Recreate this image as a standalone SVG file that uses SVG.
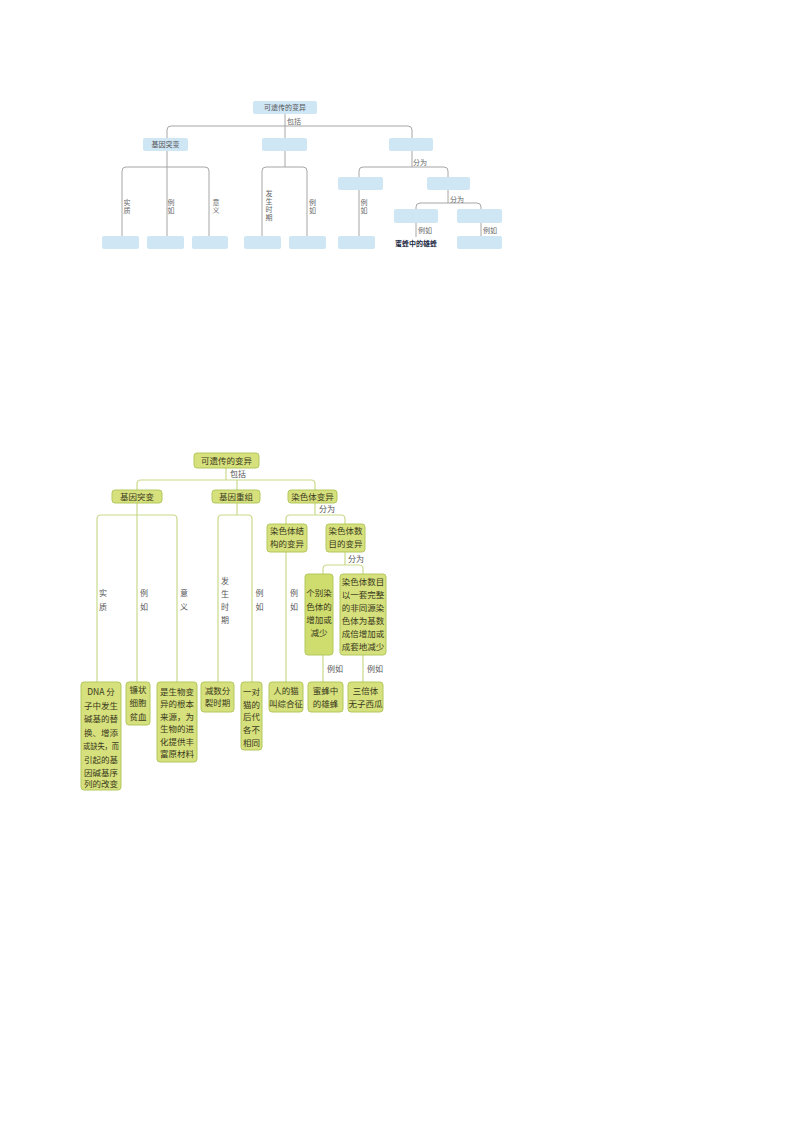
<svg xmlns="http://www.w3.org/2000/svg" width="800" height="1132" viewBox="0 0 800 1132">
<style>
.bg{fill:#ffffff}
.tl{fill:none;stroke:#9c9c9c;stroke-width:0.9}
.tb{fill:#cfe6f5;stroke:none}
.tt{font-family:"Noto Sans CJK SC","Noto Sans",sans-serif;font-size:7px;fill:#555;text-anchor:middle}
.tv{font-family:"Noto Sans CJK SC","Noto Sans",sans-serif;font-size:7px;fill:#666;text-anchor:middle}
.tk{font-family:"Noto Sans CJK SC","Noto Sans",sans-serif;font-size:7px;fill:#222a44;font-weight:bold;text-anchor:middle}
.gl{fill:none;stroke:#c9d98a;stroke-width:1.2}
.gb{fill:#d6e07c;stroke:#b3c85c;stroke-width:1}
.gt{font-family:"Noto Sans CJK SC","Noto Sans",sans-serif;font-size:8.5px;fill:#3a3a20;text-anchor:middle}
.gv{font-family:"Noto Sans CJK SC","Noto Sans",sans-serif;font-size:8px;fill:#555;text-anchor:middle}
</style>
<rect class="bg" x="0" y="0" width="800" height="1132"/>

<!-- ===== Top diagram (blue) ===== -->
<g id="top-connectors">
<path class="tl" d="M285 114 V167"/>
<path class="tl" d="M167 237 V130 Q167 126 171 126 H408 Q412 126 412 130 V167"/>
<path class="tl" d="M122 237 V171 Q122 167 126 167 H205 Q209 167 209 171 V237"/>
<path class="tl" d="M262 237 V171 Q262 167 266 167 H303 Q307 167 307 171 V237"/>
<path class="tl" d="M359 237 V171 Q359 167 363 167 H444 Q448 167 448 171 V203"/>
<path class="tl" d="M416 237 V207 Q416 203 420 203 H477 Q481 203 481 207 V237"/>
<text class="tv" x="294" y="124">包括</text>
<text class="tv" x="420" y="165">分为</text>
<text class="tv" x="457" y="202">分为</text>
<text class="tv" x="425" y="233">例如</text>
<text class="tv" x="490" y="233">例如</text>
<text class="tv" x="127" y="205"><tspan x="127">实</tspan><tspan x="127" dy="8">质</tspan></text>
<text class="tv" x="171" y="205"><tspan x="171">例</tspan><tspan x="171" dy="8">如</tspan></text>
<text class="tv" x="216" y="205"><tspan x="216">意</tspan><tspan x="216" dy="8">义</tspan></text>
<text class="tv" x="269" y="196"><tspan x="269">发</tspan><tspan x="269" dy="8">生</tspan><tspan x="269" dy="8">时</tspan><tspan x="269" dy="8">期</tspan></text>
<text class="tv" x="312.5" y="205"><tspan x="312.5">例</tspan><tspan x="312.5" dy="8">如</tspan></text>
<text class="tv" x="364" y="205"><tspan x="364">例</tspan><tspan x="364" dy="8">如</tspan></text>
</g>
<g id="t-root"><rect class="tb" x="253" y="101" width="64" height="13" rx="2"/><text class="tt" x="285" y="110">可遗传的变异</text></g>
<g id="t-jytb"><rect class="tb" x="143" y="138" width="45" height="13" rx="2"/><text class="tt" x="165.5" y="147">基因突变</text></g>
<g id="t-jycz"><rect class="tb" x="262" y="138" width="45" height="13" rx="2"/></g>
<g id="t-rstby"><rect class="tb" x="389" y="138" width="44" height="13" rx="2"/></g>
<g id="t-jg"><rect class="tb" x="338" y="177" width="45" height="13" rx="2"/></g>
<g id="t-sm"><rect class="tb" x="427" y="177" width="43" height="13" rx="2"/></g>
<g id="t-gb"><rect class="tb" x="394" y="209" width="44" height="14" rx="2"/></g>
<g id="t-bs"><rect class="tb" x="457" y="209" width="45" height="14" rx="2"/></g>
<g id="t-b1"><rect class="tb" x="102" y="236" width="37" height="13" rx="2"/></g>
<g id="t-b2"><rect class="tb" x="147" y="236" width="37" height="13" rx="2"/></g>
<g id="t-b3"><rect class="tb" x="192" y="236" width="36" height="13" rx="2"/></g>
<g id="t-b4"><rect class="tb" x="244" y="236" width="37" height="13" rx="2"/></g>
<g id="t-b5"><rect class="tb" x="289" y="236" width="37" height="13" rx="2"/></g>
<g id="t-b6"><rect class="tb" x="338" y="236" width="37" height="13" rx="2"/></g>
<g id="t-b7"><text class="tk" x="416" y="245.5">蜜蜂中的雄蜂</text></g>
<g id="t-b8"><rect class="tb" x="457" y="236" width="45" height="13" rx="2"/></g>

<!-- ===== Bottom diagram (green) ===== -->
<g id="bottom-connectors">
<path class="gl" d="M226 468 V480"/>
<path class="gl" d="M137 682 V484 Q137 480 141 480 H311 Q315 480 315 484 V515"/>
<path class="gl" d="M237 480 V515"/>
<path class="gl" d="M97 682 V519 Q97 515 101 515 H173 Q177 515 177 519 V682"/>
<path class="gl" d="M218 682 V519 Q218 515 222 515 H248 Q252 515 252 519 V682"/>
<path class="gl" d="M286 682 V519 Q286 515 290 515 H341 Q345 515 345 519 V565"/>
<path class="gl" d="M323 682 V569 Q323 565 327 565 H359 Q363 565 363 569 V682"/>
<text class="gv" x="238" y="477">包括</text>
<text class="gv" x="327" y="512">分为</text>
<text class="gv" x="356" y="562">分为</text>
<text class="gv" x="335" y="672">例如</text>
<text class="gv" x="375" y="672">例如</text>
<text class="gv" x="103" y="596"><tspan x="103">实</tspan><tspan x="103" dy="14">质</tspan></text>
<text class="gv" x="144" y="596"><tspan x="144">例</tspan><tspan x="144" dy="14">如</tspan></text>
<text class="gv" x="184" y="596"><tspan x="184">意</tspan><tspan x="184" dy="14">义</tspan></text>
<text class="gv" x="225" y="584"><tspan x="225">发</tspan><tspan x="225" dy="12.5">生</tspan><tspan x="225" dy="13">时</tspan><tspan x="225" dy="13">期</tspan></text>
<text class="gv" x="259.5" y="596"><tspan x="259.5">例</tspan><tspan x="259.5" dy="14">如</tspan></text>
<text class="gv" x="294" y="596"><tspan x="294">例</tspan><tspan x="294" dy="14">如</tspan></text>
</g>
<g id="g-root"><rect class="gb" x="194" y="453" width="65" height="15" rx="3"/><text class="gt" x="226.5" y="464">可遗传的变异</text></g>
<g id="g-jytb"><rect class="gb" x="112" y="490" width="50" height="13" rx="3"/><text class="gt" x="137" y="500">基因突变</text></g>
<g id="g-jycz"><rect class="gb" x="212" y="490" width="48" height="13" rx="3"/><text class="gt" x="236" y="500">基因重组</text></g>
<g id="g-rstby"><rect class="gb" x="288" y="490" width="49" height="13" rx="3"/><text class="gt" x="312.5" y="500">染色体变异</text></g>
<g id="g-jg"><rect class="gb" x="267" y="524" width="40" height="28" rx="3"/><text class="gt"><tspan x="287" y="534">染色体结</tspan><tspan x="287" y="547">构的变异</tspan></text></g>
<g id="g-sm"><rect class="gb" x="326" y="524" width="39" height="28" rx="3"/><text class="gt"><tspan x="345.5" y="534">染色体数</tspan><tspan x="345.5" y="547">目的变异</tspan></text></g>
<g id="g-gb"><rect class="gb" x="305" y="574" width="28" height="81" rx="3" style="fill:#cfdc6e"/><text class="gt"><tspan x="319" y="596">个别染</tspan><tspan x="319" y="609.5">色体的</tspan><tspan x="319" y="622.5">增加或</tspan><tspan x="319" y="635.5">减少</tspan></text></g>
<g id="g-bs"><rect class="gb" x="340" y="574" width="46" height="81" rx="3"/><text class="gt"><tspan x="363" y="585">染色体数目</tspan><tspan x="363" y="598">以一套完整</tspan><tspan x="363" y="611">的非同源染</tspan><tspan x="363" y="624">色体为基数</tspan><tspan x="363" y="637">成倍增加或</tspan><tspan x="363" y="650">成套地减少</tspan></text></g>
<g id="g-b1"><rect class="gb" x="81" y="682" width="40" height="108" rx="3"/><text class="gt"><tspan x="101" y="695">DNA 分</tspan><tspan x="101" y="708.5">子中发生</tspan><tspan x="101" y="722">碱基的替</tspan><tspan x="101" y="735.5">换、增添</tspan></text><text class="gt" x="101" y="749" textLength="36" lengthAdjust="spacingAndGlyphs">或缺失，而</text><text class="gt"><tspan x="101" y="762.5">引起的基</tspan><tspan x="101" y="776">因碱基序</tspan><tspan x="101" y="787">列的改变</tspan></text></g>
<g id="g-b2"><rect class="gb" x="126" y="682" width="24" height="43" rx="3"/><text class="gt"><tspan x="138" y="693">镰状</tspan><tspan x="138" y="706">细胞</tspan><tspan x="138" y="719.5">贫血</tspan></text></g>
<g id="g-b3"><rect class="gb" x="157" y="682" width="40" height="80" rx="3"/><text class="gt"><tspan x="177" y="694.5">是生物变</tspan><tspan x="177" y="707">异的根本</tspan><tspan x="177" y="719.5">来源，为</tspan><tspan x="177" y="732">生物的进</tspan><tspan x="177" y="744.5">化提供丰</tspan><tspan x="177" y="757">富原材料</tspan></text></g>
<g id="g-b4"><rect class="gb" x="201" y="682" width="33" height="30" rx="3"/><text class="gt"><tspan x="217.5" y="694">减数分</tspan><tspan x="217.5" y="706">裂时期</tspan></text></g>
<g id="g-b5"><rect class="gb" x="241" y="682" width="21" height="68" rx="3"/><text class="gt"><tspan x="251.5" y="695">一对</tspan><tspan x="251.5" y="707.5">猫的</tspan><tspan x="251.5" y="720">后代</tspan><tspan x="251.5" y="733">各不</tspan><tspan x="251.5" y="746">相同</tspan></text></g>
<g id="g-b6"><rect class="gb" x="269" y="682" width="34" height="30" rx="3"/><text class="gt"><tspan x="286" y="694">人的猫</tspan><tspan x="286" y="706.5">叫综合征</tspan></text></g>
<g id="g-b7"><rect class="gb" x="308" y="682" width="35" height="30" rx="3"/><text class="gt"><tspan x="325.5" y="694">蜜蜂中</tspan><tspan x="325.5" y="706.5">的雄蜂</tspan></text></g>
<g id="g-b8"><rect class="gb" x="348" y="682" width="35" height="30" rx="3"/><text class="gt"><tspan x="365.5" y="694">三倍体</tspan><tspan x="365.5" y="706.5">无子西瓜</tspan></text></g>
</svg>
